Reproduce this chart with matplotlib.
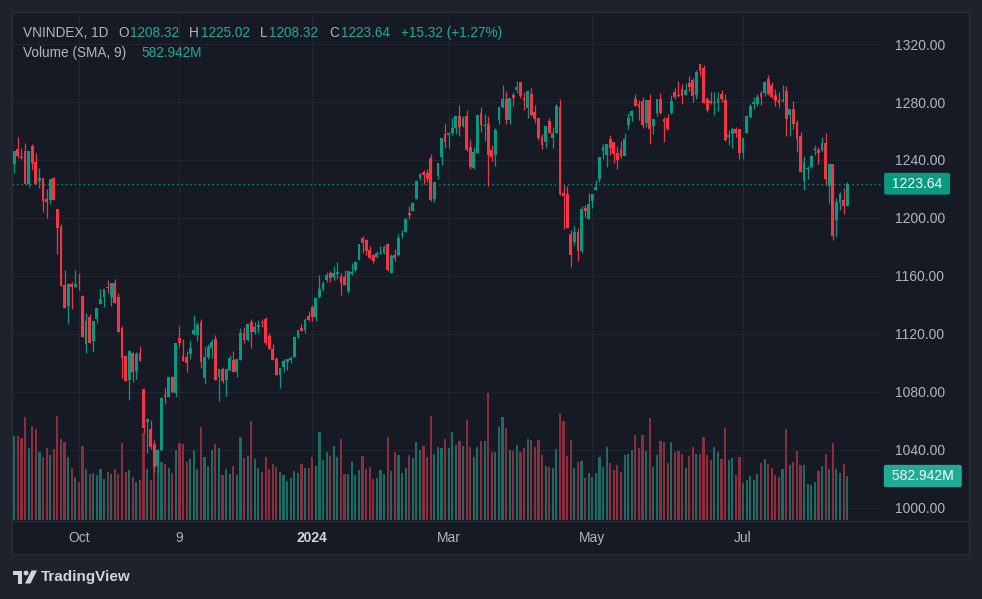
import numpy as np
import matplotlib
matplotlib.use("Agg")
import matplotlib.pyplot as plt
import matplotlib.transforms as mtransforms
from matplotlib.patches import Rectangle, Polygon, Circle
from matplotlib.lines import Line2D

plt.rcParams['font.family'] = ['Liberation Sans', 'DejaVu Sans']

# ---------------- data (daily candles, VNINDEX) ----------------
opens = [
    1237.5, 1247.6, 1241.8, 1246.2, 1223.7, 1249.6, 1238.6, 1225.5, 1227.4, 1213.1,
    1212.4, 1227.4, 1206.2, 1194.0, 1153.8, 1139.3, 1154.5, 1152.6, 1155.6, 1146.2,
    1113.3, 1131.7, 1115.2, 1130.3, 1140.9, 1145.7, 1152.4, 1145.7, 1155.2, 1145.5,
    1124.1, 1104.8, 1088.5, 1106.9, 1094.7, 1106.9, 1082.0, 1059.5, 1054.2, 1044.1,
    1029.2, 1040.0, 1078.1, 1076.8, 1090.3, 1079.5, 1117.2, 1104.8, 1103.9, 1106.4,
    1120.0, 1119.3, 1128.5, 1089.9, 1104.1, 1110.3, 1116.5, 1090.3, 1095.9, 1088.5,
    1095.2, 1102.1, 1094.0, 1102.1, 1120.7, 1115.9, 1128.3, 1121.4, 1124.8, 1127.9,
    1130.3, 1118.6, 1109.6, 1102.7, 1091.7, 1097.2, 1100.7, 1102.1, 1104.1, 1117.9,
    1124.1, 1122.7, 1132.6, 1138.8, 1131.9, 1145.5, 1151.0, 1157.2, 1162.3, 1159.1,
    1161.3, 1159.9, 1159.1, 1149.9, 1161.6, 1164.1, 1171.0, 1186.2, 1184.8, 1177.9,
    1174.5, 1173.1, 1175.2, 1175.8, 1182.1, 1162.1, 1174.5, 1174.5, 1188.3, 1190.3,
    1203.4, 1204.8, 1213.1, 1227.6, 1231.7, 1231.0, 1241.1, 1212.9, 1228.9, 1242.1,
    1257.9, 1257.2, 1258.4, 1261.8, 1270.3, 1263.5, 1270.3, 1248.9, 1234.5, 1244.8,
    1272.4, 1263.4, 1264.8, 1246.9, 1243.4, 1267.6, 1276.5, 1282.0, 1267.6, 1284.8,
    1288.3, 1293.8, 1282.8, 1275.9, 1285.5, 1273.1, 1268.9, 1255.9, 1252.4, 1266.9,
    1255.2, 1258.6, 1276.5, 1217.2, 1216.5, 1189.0, 1183.4, 1190.3, 1177.2, 1206.9,
    1199.3, 1211.7, 1219.3, 1226.9, 1246.2, 1243.4, 1254.5, 1252.4, 1244.8, 1247.6,
    1242.8, 1264.1, 1270.3, 1282.1, 1278.6, 1280.7, 1265.5, 1281.4, 1263.4, 1272.4,
    1282.1, 1268.3, 1269.0, 1272.4, 1286.9, 1284.8, 1289.0, 1284.8, 1293.1, 1295.2,
    1284.8, 1306.2, 1303.4, 1282.1, 1280.7, 1279.3, 1279.3, 1285.5, 1281.4, 1255.9,
    1257.9, 1261.4, 1261.4, 1244.8, 1258.6, 1269.6, 1278.6, 1278.6, 1286.2, 1286.2,
    1295.9, 1291.7, 1284.8, 1281.4, 1280.7, 1287.6, 1271.0, 1275.2, 1265.5, 1256.5,
    1225.5, 1233.5, 1235.2, 1246.9, 1246.9, 1246.2, 1251.7, 1222.1, 1237.2, 1198.6,
    1210.5, 1212.4, 1208.32,
]
highs = [
    1246.5, 1255.6, 1248.3, 1251.5, 1246.5, 1251.0, 1244.8, 1234.2, 1227.6, 1220.0,
    1227.0, 1228.5, 1206.4, 1195.9, 1164.1, 1155.0, 1155.6, 1164.1, 1161.8, 1146.9,
    1134.2, 1133.5, 1129.2, 1138.0, 1151.0, 1151.2, 1157.2, 1155.4, 1157.7, 1148.0,
    1125.5, 1105.2, 1108.8, 1107.6, 1107.6, 1111.7, 1082.5, 1062.3, 1060.7, 1046.9,
    1040.5, 1076.5, 1083.0, 1090.5, 1091.0, 1114.0, 1125.5, 1116.5, 1108.3, 1115.9,
    1133.1, 1128.5, 1130.3, 1111.7, 1112.9, 1116.5, 1119.3, 1096.2, 1097.2, 1096.1,
    1105.5, 1108.3, 1103.0, 1124.1, 1124.8, 1127.8, 1130.3, 1128.3, 1129.6, 1130.1,
    1131.7, 1120.7, 1113.1, 1104.1, 1096.8, 1102.7, 1102.9, 1104.8, 1118.6, 1123.0,
    1126.9, 1131.0, 1136.1, 1140.0, 1145.0, 1160.7, 1156.5, 1162.7, 1163.4, 1166.9,
    1169.6, 1161.8, 1164.1, 1163.6, 1168.7, 1170.6, 1182.3, 1187.6, 1185.5, 1180.7,
    1175.0, 1177.2, 1180.7, 1181.4, 1182.7, 1175.2, 1178.6, 1189.0, 1191.7, 1200.0,
    1208.3, 1211.0, 1226.2, 1231.0, 1233.1, 1233.5, 1244.0, 1225.0, 1238.0, 1255.4,
    1264.8, 1259.5, 1268.9, 1270.5, 1277.9, 1270.3, 1274.5, 1254.5, 1248.9, 1271.2,
    1276.5, 1271.7, 1270.3, 1250.3, 1262.1, 1276.7, 1291.7, 1287.6, 1283.0, 1286.9,
    1294.5, 1294.0, 1286.9, 1288.0, 1289.6, 1277.9, 1269.0, 1257.9, 1263.6, 1268.9,
    1262.8, 1278.6, 1282.0, 1222.7, 1222.1, 1191.7, 1194.5, 1193.1, 1208.3, 1209.0,
    1217.2, 1216.7, 1226.2, 1242.3, 1251.0, 1251.2, 1257.2, 1252.6, 1249.6, 1253.1,
    1258.6, 1272.4, 1274.5, 1285.5, 1281.4, 1283.4, 1281.6, 1285.5, 1268.5, 1282.3,
    1286.2, 1269.6, 1271.7, 1284.8, 1289.6, 1294.5, 1292.4, 1293.1, 1297.9, 1296.5,
    1302.1, 1306.5, 1305.5, 1283.4, 1286.9, 1286.9, 1286.9, 1288.3, 1285.5, 1260.7,
    1262.8, 1262.8, 1261.6, 1255.4, 1271.0, 1278.6, 1283.4, 1285.5, 1287.6, 1294.5,
    1298.6, 1293.8, 1288.9, 1286.9, 1291.7, 1291.0, 1275.4, 1280.7, 1267.6, 1259.3,
    1242.8, 1235.8, 1243.0, 1250.3, 1248.9, 1255.9, 1258.6, 1237.4, 1237.4, 1213.8,
    1217.9, 1220.7, 1225.02,
]
lows = [
    1230.8, 1241.6, 1240.7, 1223.5, 1221.6, 1233.1, 1223.5, 1220.9, 1204.1, 1200.2,
    1209.6, 1212.2, 1175.2, 1153.0, 1138.0, 1126.9, 1137.2, 1152.4, 1150.3, 1118.0,
    1107.1, 1113.8, 1107.8, 1127.8, 1140.7, 1138.8, 1148.0, 1139.5, 1141.4, 1121.4,
    1089.9, 1087.6, 1074.5, 1087.1, 1089.0, 1101.4, 1051.5, 1038.1, 1041.0, 1025.0,
    1024.0, 1039.5, 1071.7, 1076.5, 1079.0, 1076.8, 1111.3, 1101.2, 1093.8, 1102.5,
    1119.3, 1115.2, 1096.8, 1085.7, 1103.0, 1103.4, 1088.3, 1074.0, 1086.4, 1077.5,
    1094.8, 1093.8, 1090.6, 1101.9, 1113.8, 1115.5, 1110.3, 1120.0, 1120.7, 1125.0,
    1112.4, 1109.4, 1101.9, 1091.5, 1083.0, 1093.8, 1095.0, 1100.2, 1103.9, 1117.5,
    1121.8, 1120.9, 1129.2, 1129.2, 1129.2, 1145.0, 1149.9, 1156.1, 1156.1, 1157.2,
    1157.9, 1146.9, 1153.6, 1148.5, 1160.7, 1163.0, 1170.8, 1175.9, 1174.5, 1172.0,
    1168.9, 1172.6, 1175.0, 1175.5, 1163.4, 1161.8, 1170.3, 1173.8, 1186.2, 1190.0,
    1199.3, 1204.6, 1213.0, 1226.2, 1223.4, 1225.0, 1211.7, 1211.2, 1226.9, 1236.8,
    1248.3, 1248.3, 1257.0, 1257.9, 1256.5, 1263.0, 1246.5, 1233.8, 1233.8, 1244.6,
    1259.3, 1253.1, 1222.1, 1239.3, 1235.8, 1264.8, 1276.0, 1264.8, 1264.8, 1277.2,
    1286.2, 1282.8, 1274.5, 1269.0, 1270.5, 1265.5, 1253.8, 1247.6, 1248.3, 1258.4,
    1248.3, 1258.4, 1216.0, 1192.4, 1192.9, 1166.2, 1181.4, 1170.3, 1176.0, 1200.9,
    1199.0, 1206.9, 1219.0, 1224.8, 1240.7, 1235.2, 1243.4, 1237.9, 1233.8, 1241.4,
    1242.6, 1261.4, 1266.9, 1277.0, 1267.6, 1262.0, 1262.7, 1251.0, 1257.9, 1270.3,
    1271.7, 1252.4, 1261.0, 1272.0, 1282.1, 1283.4, 1278.6, 1284.6, 1287.6, 1280.0,
    1282.1, 1297.9, 1279.0, 1273.1, 1278.6, 1271.0, 1273.8, 1280.0, 1253.1, 1250.3,
    1248.3, 1255.9, 1240.7, 1240.7, 1258.4, 1269.0, 1275.2, 1277.2, 1277.9, 1284.1,
    1285.0, 1283.0, 1277.2, 1276.5, 1280.0, 1256.5, 1256.5, 1261.4, 1245.5, 1231.5,
    1219.3, 1226.9, 1234.5, 1243.4, 1237.2, 1246.0, 1222.7, 1210.3, 1184.8, 1186.9,
    1205.5, 1202.7, 1208.32,
]
closes = [
    1246.2, 1242.7, 1241.4, 1223.7, 1246.2, 1237.9, 1223.7, 1227.4, 1211.7, 1211.0,
    1226.7, 1212.4, 1193.3, 1153.3, 1138.1, 1154.5, 1152.6, 1154.5, 1155.3, 1118.1,
    1128.9, 1114.0, 1128.9, 1137.7, 1143.9, 1151.0, 1152.0, 1155.2, 1141.6, 1121.6,
    1103.7, 1087.8, 1108.3, 1093.5, 1106.2, 1101.6, 1055.4, 1061.4, 1042.3, 1028.5,
    1040.0, 1076.1, 1076.8, 1090.3, 1080.0, 1113.8, 1113.8, 1101.4, 1100.2, 1110.3,
    1122.7, 1126.2, 1100.9, 1104.4, 1111.0, 1114.5, 1088.5, 1095.9, 1087.6, 1095.9,
    1103.2, 1094.0, 1102.7, 1120.7, 1115.9, 1126.9, 1121.4, 1124.8, 1126.2, 1127.6,
    1113.8, 1109.6, 1102.1, 1091.7, 1096.5, 1101.4, 1102.7, 1103.4, 1117.9, 1122.7,
    1122.0, 1129.6, 1129.6, 1131.9, 1144.8, 1151.0, 1155.2, 1160.7, 1158.6, 1162.1,
    1162.7, 1154.9, 1153.8, 1163.4, 1162.7, 1169.6, 1182.1, 1182.7, 1177.2, 1172.4,
    1170.6, 1175.8, 1175.9, 1180.0, 1164.1, 1173.8, 1172.4, 1186.2, 1189.0, 1199.3,
    1202.0, 1210.3, 1225.5, 1230.3, 1229.6, 1226.9, 1212.4, 1224.8, 1237.9, 1255.2,
    1252.4, 1258.8, 1262.1, 1270.3, 1263.0, 1268.9, 1246.9, 1235.2, 1245.5, 1271.0,
    1264.1, 1264.1, 1243.4, 1242.1, 1260.7, 1276.5, 1282.0, 1267.6, 1282.8, 1282.7,
    1290.3, 1284.1, 1281.4, 1287.6, 1271.0, 1268.3, 1255.2, 1250.3, 1263.4, 1258.6,
    1258.6, 1277.2, 1216.5, 1215.2, 1193.1, 1174.5, 1190.3, 1177.2, 1206.2, 1204.8,
    1209.6, 1216.5, 1221.4, 1242.1, 1249.0, 1251.0, 1248.3, 1244.1, 1240.0, 1242.8,
    1254.5, 1269.0, 1273.8, 1277.2, 1276.5, 1264.1, 1281.4, 1261.4, 1268.3, 1282.1,
    1272.2, 1266.2, 1261.4, 1280.7, 1283.4, 1284.1, 1284.1, 1288.3, 1290.3, 1284.1,
    1300.7, 1301.4, 1279.3, 1274.5, 1279.3, 1280.0, 1282.8, 1282.1, 1253.8, 1257.2,
    1261.4, 1258.6, 1244.8, 1255.2, 1270.3, 1277.2, 1280.0, 1283.4, 1283.4, 1293.8,
    1285.5, 1283.4, 1280.7, 1279.3, 1281.4, 1268.3, 1275.2, 1264.8, 1254.5, 1231.7,
    1238.6, 1234.0, 1242.8, 1247.6, 1244.8, 1251.7, 1226.9, 1237.2, 1187.6, 1211.0,
    1216.5, 1208.32, 1223.64,
]
volumes_m = [
    1113, 1113, 1087, 1365, 954, 1246, 1206, 901, 835, 954,
    861, 941, 1378, 1073, 1034, 835, 689, 570, 504, 981,
    676, 610, 623, 596, 676, 543, 636, 610, 676, 610,
    1020, 636, 663, 570, 504, 530, 1148, 676, 530, 751,
    769, 769, 742, 689, 623, 928, 1020, 1007, 769, 808,
    928, 676, 1232, 835, 716, 928, 1007, 954, 596, 676,
    610, 716, 596, 1100, 822, 848, 1312, 808, 689, 636,
    835, 676, 742, 702, 636, 596, 517, 557, 649, 623,
    742, 689, 689, 835, 716, 1166, 795, 901, 848, 981,
    835, 1073, 610, 610, 769, 596, 663, 848, 676, 702,
    543, 557, 663, 610, 1100, 649, 901, 861, 623, 689,
    861, 822, 1034, 928, 981, 835, 1378, 875, 967, 954,
    1073, 954, 1166, 994, 1047, 981, 1325, 967, 835, 967,
    1047, 1047, 1683, 901, 901, 1232, 1365, 1219, 928, 914,
    994, 901, 954, 1073, 1060, 967, 1060, 861, 716, 702,
    689, 941, 1418, 1312, 848, 1060, 689, 769, 782, 557,
    623, 570, 623, 835, 702, 967, 755, 663, 729, 636,
    861, 875, 928, 1126, 954, 1126, 914, 1352, 702, 861,
    1047, 1034, 755, 1034, 901, 914, 875, 689, 848, 967,
    875, 875, 1100, 861, 795, 967, 901, 808, 1219, 795,
    822, 596, 835, 490, 530, 583, 530, 610, 755, 808,
    742, 689, 596, 570, 676, 1206, 729, 769, 914, 729,
    729, 477, 464, 504, 649, 716, 875, 676, 1020, 676,
    623, 742, 582.942,
]
date_tick_idx = [18, 46, 83, 121, 161, 203]
date_tick_labels = ['Oct', '9', '2024', 'Mar', 'May', 'Jul']
price_ticks = [1000, 1040, 1080, 1120, 1160, 1200, 1240, 1280, 1320]
symbol = 'VNINDEX'
interval = '1D'

opens = np.array(opens); highs = np.array(highs)
lows = np.array(lows); closes = np.array(closes)
volumes_m = np.array(volumes_m, dtype=float)
n = len(closes)
x = np.arange(n)

# ---------------- style ----------------
W, H = 982, 599
BG_OUT = '#1e222d'
BG = '#161a25'
GRID = '#232734'
BORDER = '#2a2e39'
UP = '#089981'
DN = '#f23645'
VUP = '#1d6b62'
VDN = '#8b2f3e'
TXT = '#b2b5be'
VAL = '#22ab94'

fig = plt.figure(figsize=(W / 100, H / 100), dpi=100)
fig.patch.set_facecolor(BG_OUT)


def frect(x0, y0, x1, y1):
    return [x0 / W, 1 - y1 / H, (x1 - x0) / W, (y1 - y0) / H]


def fx(px):
    return px / W


def fy(py):
    return 1 - py / H


# pane background + border
fig.add_artist(Rectangle((fx(12), fy(554)), (969 - 12) / W, (554 - 12) / H,
                         transform=fig.transFigure, facecolor=BG,
                         edgecolor=BORDER, lw=1, zorder=0))
fig.add_artist(Line2D([fx(12), fx(969)], [fy(520.5), fy(520.5)],
                      transform=fig.transFigure, color=BORDER, lw=1, zorder=1))

ax = fig.add_axes(frect(12, 12, 883, 520))
ax.set_facecolor('none')
for s in ax.spines.values():
    s.set_visible(False)

# scales
ax.set_xlim(-0.64, 241.98)
ax.set_ylim(991.72, 1342.07)
VOL_TOP = 6731.0   # volume value at top of the pane (M)

ax.set_yticks(price_ticks)
ax.set_yticklabels([f'{p:.2f}' for p in price_ticks])
ax.yaxis.tick_right()
ax.tick_params(axis='y', length=0, pad=9, labelsize=10, labelcolor=TXT)
ax.set_xticks(date_tick_idx)
ax.set_xticklabels(date_tick_labels)
ax.tick_params(axis='x', length=0, pad=8, labelsize=10, labelcolor=TXT)
for lab in ax.get_xticklabels():
    if lab.get_text().isdigit() and len(lab.get_text()) == 4:
        lab.set_fontweight('bold')
        lab.set_color('#d1d4dc')
ax.grid(True, color=GRID, lw=0.8)
ax.set_axisbelow(True)

# volume (overlay scale in the lower part of the pane)
vol_tr = mtransforms.blended_transform_factory(
    ax.transData, mtransforms.Affine2D().scale(1, 1 / VOL_TOP) + ax.transAxes)
up = closes >= opens
vcol = np.where(up, VUP, VDN)
ax.bar(x, volumes_m, width=0.6, color=vcol, linewidth=0, transform=vol_tr, zorder=1)

# candles
ccol = np.where(up, UP, DN)
ax.vlines(x, lows, highs, colors=ccol, lw=0.9, zorder=3)
body_lo = np.minimum(opens, closes)
body_h = np.maximum(np.abs(closes - opens), 0.7)
ax.bar(x, body_h, bottom=body_lo, width=0.78, color=ccol, linewidth=0, zorder=4)

ax.set_xlim(-0.64, 241.98)
ax.set_ylim(991.72, 1342.07)

# last price line + tags
last = closes[-1]
ax.axhline(last, color=UP, lw=1.0, ls=(0, (1, 2.2)), zorder=2)
tag_tr = mtransforms.blended_transform_factory(ax.transAxes, ax.transData)
ax.text(1 + (888 - 883) / 871, last, f' {last:.2f} ', transform=tag_tr,
        ha='left', va='center', fontsize=10, color='white', clip_on=False,
        bbox=dict(boxstyle='round,pad=0.28,rounding_size=0.15', fc=UP, ec='none'))
vtag_tr = mtransforms.blended_transform_factory(
    ax.transAxes, mtransforms.Affine2D().scale(1, 1 / VOL_TOP) + ax.transAxes)
ax.text(1 + (888 - 883) / 871, volumes_m[-1], f' {volumes_m[-1]:.3f}M ', transform=vtag_tr,
        ha='left', va='center', fontsize=10, color='white', clip_on=False,
        bbox=dict(boxstyle='round,pad=0.3,rounding_size=0.15', fc=VAL, ec='none'))

# header legend
chg = closes[-1] - closes[-2]
pct = chg / closes[-2] * 100
segs1 = [
    (f'{symbol}, {interval}', 23, TXT),
    ('O', 118, TXT), (f'{opens[-1]:.2f}', 130, VAL),
    ('H', 189, TXT), (f'{highs[-1]:.2f}', 201.5, VAL),
    ('L', 259.5, TXT), (f'{lows[-1]:.2f}', 269, VAL),
    ('C', 329.5, TXT), (f'{closes[-1]:.2f}', 341, VAL),
    (f'{chg:+.2f} ({pct:+.2f}%)', 401, VAL),
]
for t, px, c in segs1:
    fig.text(fx(px), fy(33), t, color=c, fontsize=9.8, ha='left', va='center')
fig.text(fx(23), fy(53), 'Volume (SMA, 9)', color=TXT, fontsize=9.8, ha='left', va='center')
fig.text(fx(141.5), fy(53), f'{volumes_m[-1]:.3f}M', color=VAL, fontsize=9.8,
         ha='left', va='center')

# TradingView logo
lax = fig.add_axes(frect(12, 569, 38, 585))
lax.set_xlim(0, 26); lax.set_ylim(16, 0); lax.axis('off')
LC = '#d1d4dc'
lax.add_patch(Polygon([(1, 1.5), (10, 1.5), (10, 14.5), (5.5, 14.5), (5.5, 6), (1, 6)],
                      closed=True, fc=LC, ec='none'))
lax.add_patch(Circle((14, 4), 2.4, fc=LC, ec='none'))
lax.add_patch(Polygon([(19.5, 1.5), (25, 1.5), (18.5, 14.5), (13, 14.5)],
                      closed=True, fc=LC, ec='none'))
fig.text(fx(41), fy(577), 'TradingView', color=LC, fontsize=11, fontweight='bold',
         ha='left', va='center')

fig.savefig('out.png', dpi=100, facecolor=fig.get_facecolor())
